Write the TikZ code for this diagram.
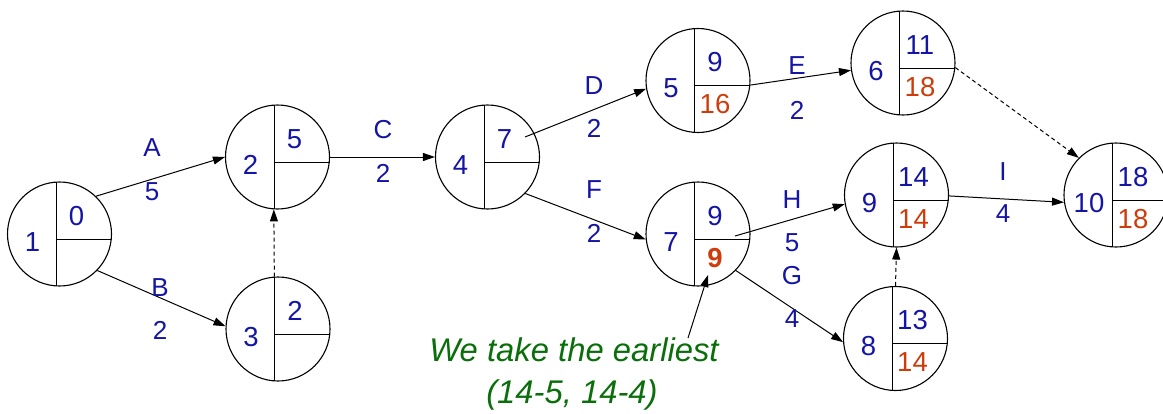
\documentclass[tikz,border=0pt]{standalone}
\usepackage{fontspec}
\setmainfont{Liberation Sans}
\usetikzlibrary{arrows.meta}
\definecolor{tblue}{RGB}{20,20,165}
\definecolor{tred}{RGB}{205,60,10}
\definecolor{tgreen}{RGB}{10,110,10}
\tikzset{
  ev/.style={circle, draw, line width=1.1pt, minimum size=104pt, inner sep=0pt},
  num/.style={text=tblue, font=\fontsize{27.5}{27.5}\selectfont, inner sep=0pt},
  late/.style={text=tred, font=\fontsize{27.5}{27.5}\selectfont, inner sep=0pt},
  lbl/.style={text=tblue, font=\fontsize{26}{26}\selectfont, inner sep=0pt},
  note/.style={text=tgreen, font=\fontsize{32.8}{32.8}\selectfont\itshape, inner sep=0pt, anchor=base},
  act/.style={line width=1pt, -{Triangle[length=12pt,width=8pt]}},
  dum/.style={act, dash pattern=on 4pt off 3pt},
  cross/.style={line width=1pt},
}
\newcommand\evnode[6]{%
  \node[ev] (#1) at (#2,#3) {};
  \draw[cross] ([shift={(-3.5,-51.9)}]#1.center) -- ([shift={(-3.5,51.9)}]#1.center);
  \draw[cross] ([shift={(-3.5,5)}]#1.center) -- ([shift={(51.76,5)}]#1.center);
  \node[num] (#1id) at ([shift={(-27,8)}]#1.center) {#4};
  \node[num] (#1t) at ([shift={(17,-18)}]#1.center) {#5};
  \node[late] (#1b) at ([shift={(17,24)}]#1.center) {#6};
}
\begin{document}
\begin{tikzpicture}[x=1pt,y=-1pt]
\useasboundingbox (0,0) rectangle (1163,413);
\evnode{n1}{59.5}{234}{1}{0}{}
\evnode{n2}{277.5}{157}{2}{5}{}
\evnode{n3}{278}{329}{3}{2}{}
\evnode{n4}{487.5}{157}{4}{7}{}
\evnode{n5}{698}{80.5}{5}{9}{16}
\evnode{n6}{903}{63}{6}{11}{18}
\evnode{n7}{698}{234}{7}{9}{\textbf{9}}
\evnode{n9}{896.5}{195}{9}{14}{14}
\evnode{n8}{895.5}{338.5}{8}{13}{14}
\evnode{n10}{1116}{195}{10}{18}{18}

% activities
\draw[act] (n1.46) -- (n2.180);
\draw[act] (n1.-44) -- (n3.177);
\draw[act] (n2.0) -- (n4.180);
\draw[dum] (n3.94) -- (n2.266);
\coordinate (s45) at ([shift={(37.5,-20)}]n4.center);
\draw[act] (s45) -- (n5.189);
\draw[act] (n4.-44) -- (n7.186);
\draw[act] (n5.-5) -- (n6.188);
\draw[dum] (n6.-5) -- (n10.135);
\coordinate (s79) at ([shift={(37,2)}]n7.center);
\draw[act] (s79) -- (n9.190);
\draw[act] (n7.-44) -- (n8.184);
\draw[act] (n9.-1) -- (n10.188);
\draw[dum] (n8.north) -- (n9.south);

% labels
\node[lbl] (lA) at (152,148) {A};  \node[lbl] (dA) at (152,192) {5};
\node[lbl] (lB) at (160,288) {B};  \node[lbl] (dB) at (160,330) {2};
\node[lbl] (lC) at (383,130) {C};  \node[lbl] (dC) at (383,173) {2};
\node[lbl] (lD) at (594,86) {D};   \node[lbl] (dD) at (594,128) {2};
\node[lbl] (lE) at (797,66) {E};   \node[lbl] (dE) at (797,110) {2};
\node[lbl] (lF) at (594,190) {F};  \node[lbl] (dF) at (594,233) {2};
\node[lbl] (lH) at (792,200) {H};  \node[lbl] (dH) at (792,243) {5};
\node[lbl] (lG) at (792,276) {G};  \node[lbl] (dG) at (792,319) {4};
\node[lbl] (lI) at (1003,172) {I}; \node[lbl] (dI) at (1003,214) {4};

% note
\node[note] (t1) at (574,361) {We take the earliest};
\node[note] (t2) at (572,403) {(14-5, 14-4)};
\coordinate (a0) at (688,338);
\coordinate (a1) at (708,275);
\draw[act] (a0) -- (a1);
\end{tikzpicture}
\end{document}
